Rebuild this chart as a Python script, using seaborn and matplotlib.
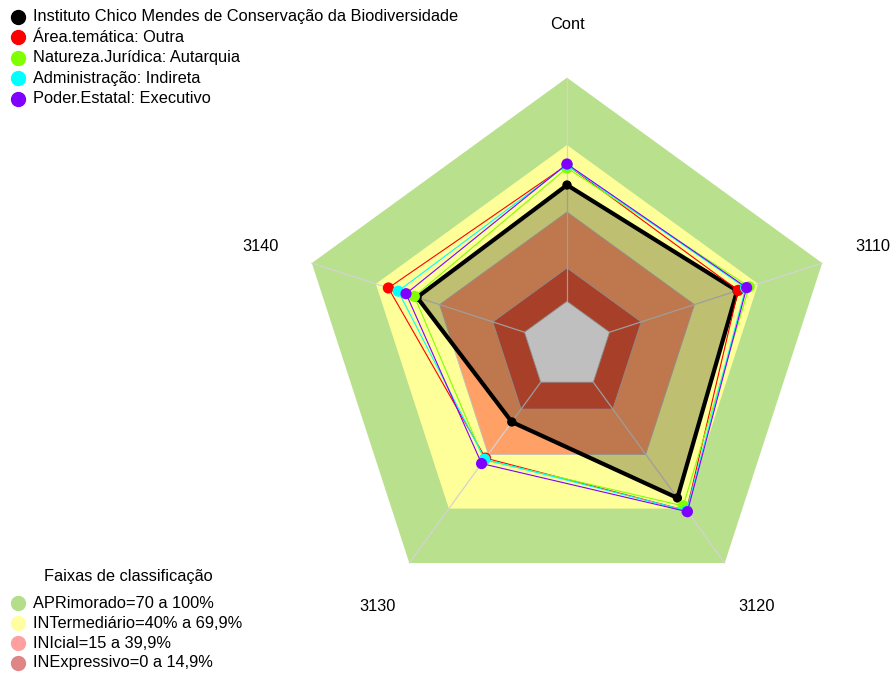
import numpy as np
import pandas as pd
import matplotlib
matplotlib.use("Agg")
import matplotlib.pyplot as plt
from matplotlib.lines import Line2D
import seaborn as sns

# Data
eixos = ['Cont', '3110', '3120', '3130', '3140']
instituto = [52, 60, 64, 22, 50.5]
area_tematica = [61, 60.5, 71, 42, 64]
natureza_juridica = [59.6, 65.7, 68.4, 43, 51.8]
administracao = [61, 64, 71, 42.6, 59.4]
poder_estatal = [61.4, 64.5, 71.6, 45, 55.7]

series_nomes = ['Instituto Chico Mendes de Conservação da Biodiversidade',
                'Área.temática: Outra',
                'Natureza.Jurídica: Autarquia',
                'Administração: Indireta',
                'Poder.Estatal: Executivo']
series_cores = ['#000000', '#FF0000', '#80FF00', '#00FFFF', '#8000FF']

faixas_nomes = ['APRimorado=70 a 100%', 'INTermediário=40% a 69,9%',
                'INIcial=15 a 39,9%', 'INExpressivo=0 a 14,9%']
faixas_limites = [100, 69.9, 39.9, 14.9, 0]
faixas_cores = ['#B9E08C', '#FFFF99', '#FFA067', '#E05538', '#FFFFFF']
faixas_legenda = ['#B5DE8A', '#FFFFA0', '#FFA0A0', '#E08585']

sns.set_theme(style="white")
plt.rcParams['font.family'] = ['Liberation Sans', 'DejaVu Sans']
plt.rcParams['text.color'] = 'black'

W, H = 895, 675
CX, CY, R = 567, 346, 268.3

fig = plt.figure(figsize=(W / 100, H / 100), dpi=100)
ax = fig.add_axes([0, 0, 1, 1])
ax.set_xlim(-CX / R, (W - CX) / R)
ax.set_ylim(-(H - CY) / R, CY / R)
ax.set_aspect('equal')
ax.axis('off')

ang = np.deg2rad(90 - 72 * np.arange(len(eixos)))


def raio(v):
    return 1 / 6 + 5 / 6 * np.asarray(v, dtype=float) / 100


def xy(vals):
    r = raio(vals)
    x = r * np.cos(ang)
    y = r * np.sin(ang)
    return np.append(x, x[0]), np.append(y, y[0])


# classification bands
for lim, cor in zip(faixas_limites, faixas_cores):
    x, y = xy([lim] * len(eixos))
    ax.fill(x, y, color=cor, lw=0, zorder=1)
for lim in faixas_limites[2:]:
    x, y = xy([lim] * len(eixos))
    ax.plot(x, y, color='#BDBDBD', lw=0.6, zorder=2)

# radial axes
for a in ang:
    ax.plot([raio(0) * np.cos(a), np.cos(a)], [raio(0) * np.sin(a), np.sin(a)],
            color='#D3D3D3', lw=0.9, zorder=2)

# series
dados = [instituto, area_tematica, natureza_juridica, administracao, poder_estatal]
x, y = xy(instituto)
ax.fill(x, y, color='black', alpha=0.25, lw=0, zorder=3)
for i, (vals, cor) in enumerate(zip(dados, series_cores)):
    x, y = xy(vals)
    df = pd.DataFrame({'x': x, 'y': y})
    lw = 3.0 if i == 0 else 0.8
    ms = 45 if i == 0 else 65
    sns.lineplot(data=df, x='x', y='y', sort=False, estimator=None,
                 color=cor, lw=lw, ax=ax, zorder=4 + i)
    sns.scatterplot(data=df.iloc[:-1], x='x', y='y', color=cor, s=ms,
                    edgecolor='none', ax=ax, zorder=4.5 + i)

# axis labels
for nome, a in zip(eixos, ang):
    ax.text(1.2 * np.cos(a), 1.2 * np.sin(a), nome, ha='center', va='center',
            fontsize=11.8, color='black')


def fx(px):
    return px / W


def fy(py):
    return 1 - py / H


# top legend
for i, (nome, cor) in enumerate(zip(series_nomes, series_cores)):
    yy = 17 + 20.4 * i
    fig.add_artist(Line2D([fx(18)], [fy(yy)], marker='o', markersize=10,
                          color=cor, lw=0, transform=fig.transFigure))
    fig.text(fx(33), fy(yy), nome, ha='left', va='center', fontsize=11.8)

# bottom legend
fig.text(fx(128), fy(576), 'Faixas de classificação', ha='center', va='center',
         fontsize=11.8)
for i, (nome, cor) in enumerate(zip(faixas_nomes, faixas_legenda)):
    yy = 603 + 20 * i
    fig.add_artist(Line2D([fx(18)], [fy(yy)], marker='o', markersize=10,
                          color=cor, lw=0, transform=fig.transFigure))
    fig.text(fx(33), fy(yy), nome, ha='left', va='center', fontsize=11.8)

fig.savefig('out.png', dpi=100)
plt.close(fig)
